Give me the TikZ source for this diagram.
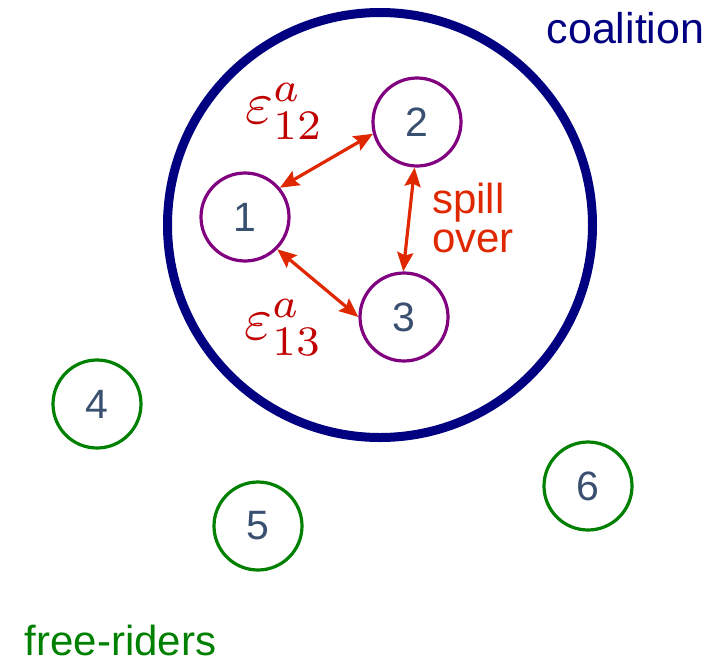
\documentclass[tikz,border=0pt]{standalone}
\usepackage{fontspec}
\setmainfont{Liberation Sans}
\usepackage{unicode-math}
\setmathfont{Latin Modern Math}
\usetikzlibrary{arrows.meta}
\definecolor{navyc}{HTML}{000080}
\definecolor{purp}{HTML}{800080}
\definecolor{grn}{HTML}{008000}
\definecolor{numc}{HTML}{3A5070}
\definecolor{arr}{HTML}{E02800}
\definecolor{lab}{HTML}{C00000}
\tikzset{
  agent/.style={circle, draw=#1, line width=3.2pt, minimum size=88pt, inner sep=0pt,
    text=numc, font=\fontsize{41}{41}\selectfont},
  link/.style={arr, line width=3.2pt, {Stealth[length=19pt,width=16pt,inset=3pt]}-{Stealth[length=19pt,width=16pt,inset=3pt]}},
  eps/.style={text=lab, inner sep=0pt},
  lbl/.style={anchor=base, inner sep=0pt, font=\fontsize{43}{43}\selectfont}
}
\begin{document}
\begin{tikzpicture}[x=1pt,y=-1pt]
\useasboundingbox (0,0) rectangle (725,665);
\node[circle, draw=navyc, line width=9pt, minimum size=425pt, inner sep=0pt] (coal) at (380,225) {};
\node[agent=purp] (n1) at (245,217) {1};
\node[agent=purp] (n2) at (417,122) {2};
\node[agent=purp] (n3) at (404,317) {3};
\node[agent=grn] (n4) at (97,404) {4};
\node[agent=grn] (n5) at (258,526) {5};
\node[agent=grn] (n6) at (588,486) {6};
\draw[link] (n1.40) -- (n2.195);
\draw[link] (n2.267) -- (n3.91);
\draw[link] (n1.-45) -- (n3.180);
\node[eps] (e12) at (285,111) {\scalebox{6}{$\varepsilon_{12}^{a}$}};
\node[eps] (e13) at (284,328) {\scalebox{6}{$\varepsilon_{13}^{a}$}};
\node[lbl, anchor=base west, text=arr, font=\fontsize{42}{42}\selectfont] (spill) at (432,213) {spill};
\node[lbl, anchor=base west, text=arr, font=\fontsize{42}{42}\selectfont] (over) at (432,252) {over};
\node[lbl, text=navyc] (coaltxt) at (625.5,43) {coalition};
\node[lbl, text=grn, font=\fontsize{42}{42}\selectfont] (free) at (120.5,655) {free-riders};
\end{tikzpicture}
\end{document}
